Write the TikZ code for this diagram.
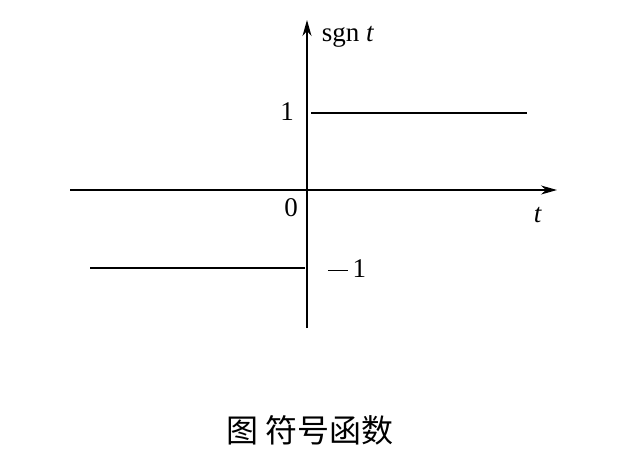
\documentclass[tikz,border=0pt]{standalone}
\usepackage{fontspec}
\setmainfont{Liberation Serif}
\newfontfamily\cjk{Noto Sans CJK SC}
\usetikzlibrary{arrows.meta}
\begin{document}
\begin{tikzpicture}[x=1pt,y=-1pt,
  ax/.style={line width=1.2pt,-{Stealth[length=16pt,width=9pt,inset=5pt]}},
  ln/.style={line width=1.2pt},
  lb/.style={font=\fontsize{27}{29}\selectfont}]
\useasboundingbox (0,0) rectangle (629,458);
\coordinate (xa) at (70,190); \coordinate (xb) at (557,190);
\coordinate (ya) at (307,328); \coordinate (yb) at (307,20);
\draw[ax] (xa) -- (xb);
\draw[ax] (ya) -- (yb);
\coordinate (p1) at (311,113); \coordinate (p2) at (527,113);
\coordinate (m1) at (90,268); \coordinate (m2) at (305,268);
\draw[ln] (p1) -- (p2);
\draw[ln] (m1) -- (m2);
\node[lb] (sgn) at (348,37) {sgn \textit{t}};
\node[lb] (one) at (287,112) {1};
\node[lb] (zero) at (291,208) {0};
\node[lb] (tl) at (538,215) {\textit{t}};
\node[lb] (mone) at (347,269) {\rule[0.55ex]{0.75em}{0.04em}\,1};
\node[font=\cjk\fontsize{32}{34}\selectfont] (cap) at (310,430) {图\ 符号函数};
\end{tikzpicture}
\end{document}
